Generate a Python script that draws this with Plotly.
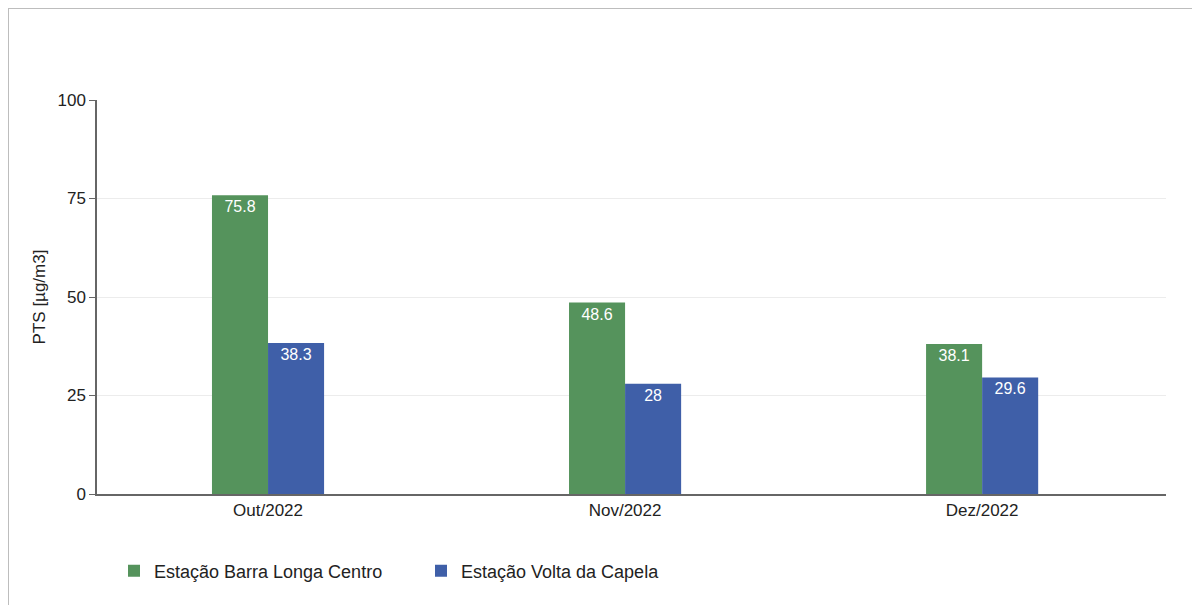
import plotly.graph_objects as go

categories = ["Out/2022", "Nov/2022", "Dez/2022"]
barra_longa = [75.8, 48.6, 38.1]
volta_capela = [38.3, 28, 29.6]
series_names = ["Estação Barra Longa Centro", "Estação Volta da Capela"]
y_ticks = [0, 25, 50, 75, 100]

FONT = "Liberation Sans, Arial, sans-serif"

# page body adds an 8px offset; margins are chosen accordingly
L, R, T, B = 89, 42, 92, 119
W, H = 1200, 605
PW, PH = W - L - R, H - T - B

fig = go.Figure()
fig.add_trace(go.Bar(x=categories, y=barra_longa, name=series_names[0],
                     marker=dict(color="#55935c", line=dict(width=0)),
                     text=barra_longa, textposition="inside", insidetextanchor="end",
                     textfont=dict(color="white", size=16, family=FONT)))
fig.add_trace(go.Bar(x=categories, y=volta_capela, name=series_names[1],
                     marker=dict(color="#3f5fa8", line=dict(width=0)),
                     text=volta_capela, textposition="inside", insidetextanchor="end",
                     textfont=dict(color="white", size=16, family=FONT)))

fx = lambda px: (px - L) / PW
fy = lambda py: (T + PH - py) / PH

fig.update_layout(
    width=W, height=H,
    margin=dict(l=L, r=R, t=T, b=B),
    paper_bgcolor="white", plot_bgcolor="white",
    barmode="group", bargap=0.686, bargroupgap=0,
    font=dict(family=FONT, size=17, color="#222"),
    showlegend=True,
    legend=dict(orientation="h", x=fx(106), xanchor="left", y=fy(563), yanchor="middle",
                font=dict(size=18, family=FONT, color="#222"), entrywidth=262,
                itemsizing="constant"),
    uniformtext=dict(minsize=14, mode="show"),
    shapes=[
        dict(type="line", xref="paper", yref="paper", x0=fx(0), x1=fx(1200), y0=fy(0), y1=fy(0),
             line=dict(color="#bdbdbd", width=2)),
        dict(type="line", xref="paper", yref="paper", x0=fx(0), x1=fx(0), y0=fy(0), y1=fy(605),
             line=dict(color="#bdbdbd", width=2)),
    ],
)
fig.update_xaxes(range=[-0.479, 2.515], showline=True, linecolor="#666", linewidth=1.5, ticks="",
                 showgrid=False, tickfont=dict(size=17, color="#222"))
fig.update_yaxes(range=[0, 100], tickvals=y_ticks, showline=True, linecolor="#666", linewidth=1.5,
                 ticks="outside", ticklen=6, tickcolor="#666", showgrid=True, gridcolor="#ececec",
                 zeroline=False, title=dict(text="PTS [µg/m3]", font=dict(size=17, color="#222"), standoff=8),
                 tickfont=dict(size=17, color="#222"))

fig.write_html("out.html")
